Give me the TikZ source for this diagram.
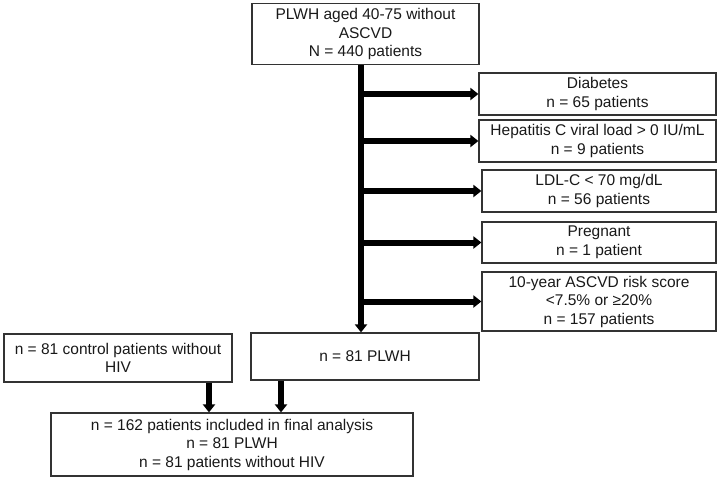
\documentclass[tikz,border=0pt]{standalone}
\usepackage{fontspec}
\setmainfont{Liberation Sans}
\usetikzlibrary{arrows.meta}
\tikzset{
  box/.style={draw=black!80, line width=1.2pt, fill=white, inner sep=0pt, align=center,
    font=\fontsize{15.5}{18.5}\selectfont, text=black!90},
  arr/.style={line width=6pt, -{Triangle[width=12pt,length=8pt]}, black}
}
\begin{document}
\begin{tikzpicture}[x=1pt,y={(0,-1pt)}]
\useasboundingbox (0,0) rectangle (720,480);
\node[box, minimum width=227pt, minimum height=61pt] (top) at (365.5,34)
  {PLWH aged 40-75 without\\ASCVD\\N = 440 patients};
\node[box, minimum width=237pt, minimum height=42pt] (diab) at (597.5,94)
  {Diabetes\\n = 65 patients};
\node[box, minimum width=237pt, minimum height=42pt] (hepc) at (597.5,141)
  {Hepatitis C viral load > 0 IU/mL\\n = 9 patients};
\node[box, minimum width=234pt, minimum height=42pt] (ldl) at (599,191)
  {LDL-C < 70 mg/dL\\n = 56 patients};
\node[box, minimum width=234pt, minimum height=41pt] (preg) at (599,242.5)
  {Pregnant\\n = 1 patient};
\node[box, minimum width=234pt, minimum height=59pt] (risk) at (599,301.5)
  {10-year ASCVD risk score\\<7.5\% or ≥20\%\\n = 157 patients};
\node[box, minimum width=228pt, minimum height=48pt] (ctrl) at (118,358)
  {n = 81 control patients without\\HIV};
\node[box, minimum width=228pt, minimum height=47pt] (plwh) at (365,356.5)
  {n = 81 PLWH};
\node[box, minimum width=362pt, minimum height=63pt] (final) at (232,444.5)
  {n = 162 patients included in final analysis\\n = 81 PLWH\\n = 81 patients without HIV};
\coordinate (sp) at (361,0);
\coordinate (a1) at (209,0);
\coordinate (a2) at (281,0);
\draw[arr] (top.south -| sp) -- (plwh.north -| sp);
\foreach \n in {diab,hepc,ldl,preg,risk}
  \draw[arr] (sp |- \n.west) -- (\n.west);
\draw[arr] (ctrl.south -| a1) -- (final.north -| a1);
\draw[arr] (plwh.south -| a2) -- (final.north -| a2);
\end{tikzpicture}
\end{document}
